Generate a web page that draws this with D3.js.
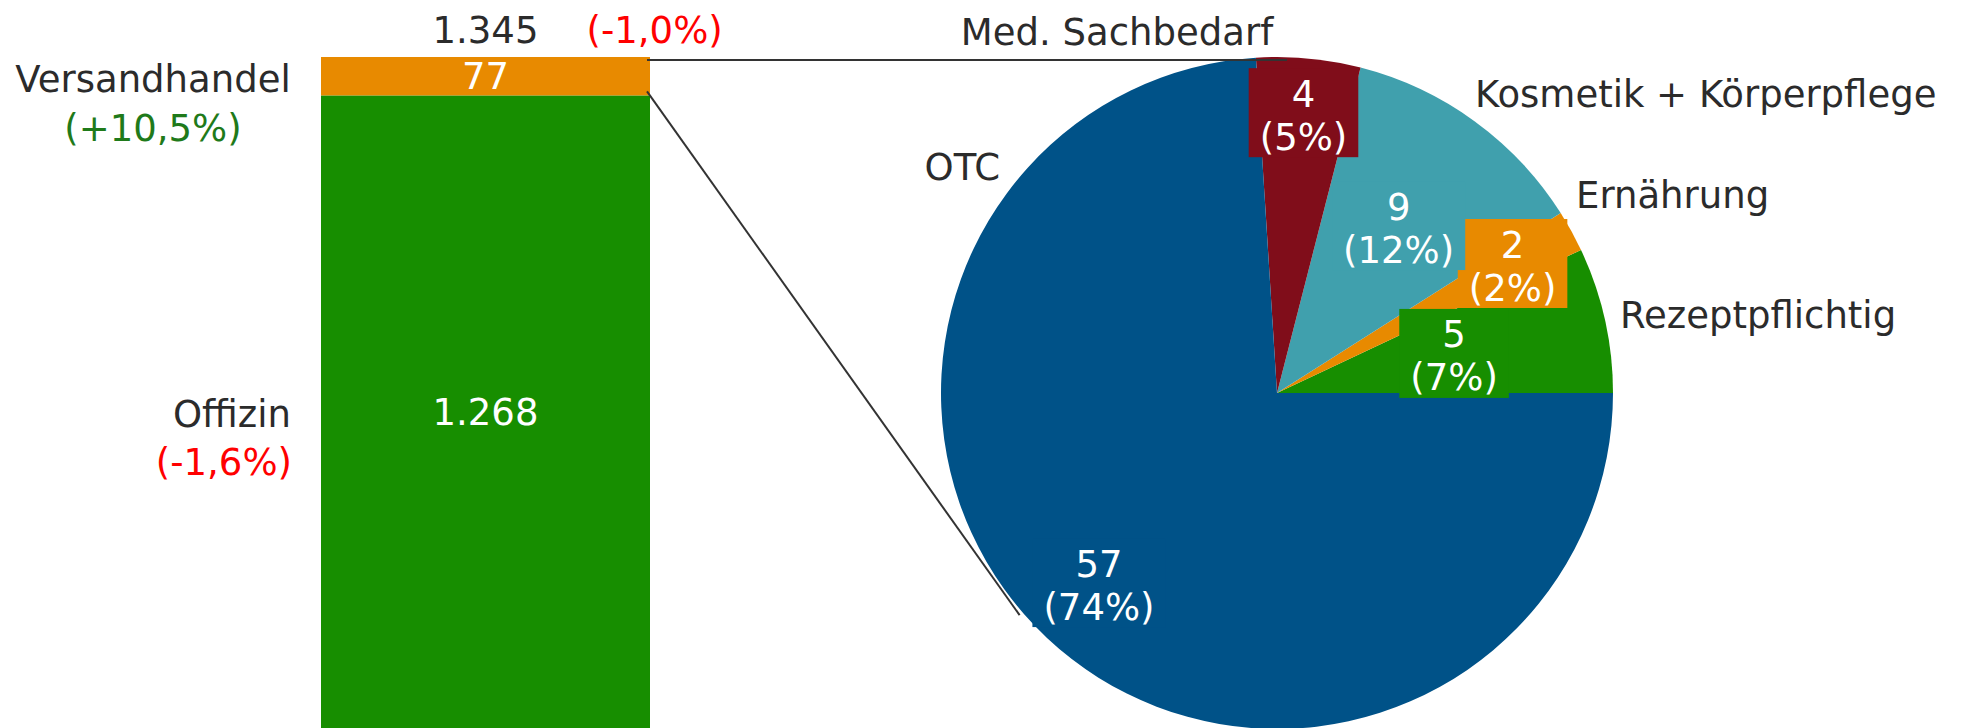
<!DOCTYPE html>
<html>
<head>
<meta charset="utf-8">
<script src="https://cdn.jsdelivr.net/npm/d3@7"></script>
<style>
  html, body { margin: 0; padding: 0; background: #ffffff; }
  svg { display: block; }
  text { font-family: "DejaVu Sans", "Liberation Sans", sans-serif; }
</style>
</head>
<body>
<script>
// ---------- DATA ----------
const barCategories = ["Offizin", "Versandhandel"];
const barValues = [1268, 77];
const barChanges = ["(-1,6%)", "(+10,5%)"];
const totalValue = 1345;
const totalChange = "(-1,0%)";

const pieCategories = ["Rezeptpflichtig", "Ernährung", "Kosmetik + Körperpflege", "Med. Sachbedarf", "OTC"];
const pieValues = [5, 2, 9, 4, 57];
const pieShares = [7, 2, 12, 5, 74];

// ---------- STYLE / LAYOUT ----------
const W = 1968, H = 728;
const barColors = ["#178e00", "#e88a00"];
const pieColors = ["#178e00", "#e88a00", "#40a0ad", "#800d1a", "#005288"];
const textDark = "#2b2b2b";
const red = "#ff0000";
const green = "#1f7a1a";
const fontSize = 37;

const pieCx = 1277, pieCy = 393, pieR = 336;
const labelRadiusFactor = [0.54, 0.80, 0.616, 0.838, 0.774];
// outer category labels: offset from pie centre, anchor
const outerLabelLayout = [
  {dx: 343, dy: -65, anchor: "start"},
  {dx: 299, dy: -185, anchor: "start"},
  {dx: 198, dy: -286, anchor: "start"},
  {dx: -160, dy: -348, anchor: "middle"},
  {dx: -277, dy: -213, anchor: "end"}
];

const de = d3.formatLocale({decimal: ",", thousands: ".", grouping: [3], currency: ["", " €"]});
const fmt = de.format(",");

const svg = d3.select("body").append("svg").attr("width", W).attr("height", H);

// ---------- BAR ----------
const x = d3.scaleBand().domain(["Apotheken"]).range([321, 650]).padding(0);
const y = d3.scaleLinear().domain([0, totalValue]).range([H, 57]);

const stack = [];
let acc = 0;
barValues.forEach((v, i) => { stack.push({cat: barCategories[i], v0: acc, v1: acc + v, v, change: barChanges[i], color: barColors[i]}); acc += v; });

svg.append("g").selectAll("rect").data(stack).join("rect")
  .attr("x", x("Apotheken"))
  .attr("width", x.bandwidth())
  .attr("y", d => y(d.v1))
  .attr("height", d => y(d.v0) - y(d.v1))
  .attr("fill", d => d.color);

const barMid = x("Apotheken") + x.bandwidth() / 2;

// values inside segments
svg.append("g").selectAll("text").data(stack).join("text")
  .attr("x", barMid)
  .attr("y", d => (y(d.v0) + y(d.v1)) / 2 + 13)
  .attr("text-anchor", "middle")
  .attr("fill", "#ffffff")
  .attr("font-size", fontSize)
  .text(d => fmt(d.v));

// total on top
svg.append("text").attr("x", barMid).attr("y", y(totalValue) - 14)
  .attr("text-anchor", "middle").attr("fill", textDark).attr("font-size", fontSize)
  .text(fmt(totalValue));
svg.append("text").attr("x", barMid + 101).attr("y", y(totalValue) - 14)
  .attr("text-anchor", "start").attr("fill", red).attr("font-size", fontSize)
  .text(totalChange);

// category labels left of bar
// Offizin
svg.append("text").attr("x", 291).attr("y", 427)
  .attr("text-anchor", "end").attr("fill", textDark).attr("font-size", fontSize)
  .text(stack[0].cat);
svg.append("text").attr("x", 292).attr("y", 475)
  .attr("text-anchor", "end").attr("fill", red).attr("font-size", fontSize)
  .text(stack[0].change);
// Versandhandel
svg.append("text").attr("x", 153).attr("y", 92)
  .attr("text-anchor", "middle").attr("fill", textDark).attr("font-size", fontSize)
  .text(stack[1].cat);
svg.append("text").attr("x", 153).attr("y", 141)
  .attr("text-anchor", "middle").attr("fill", green).attr("font-size", fontSize)
  .text(stack[1].change);

// ---------- PIE ----------
const pieData = pieCategories.map((c, i) => ({cat: c, value: pieValues[i], share: pieShares[i], color: pieColors[i], lr: labelRadiusFactor[i], ol: outerLabelLayout[i]}));
const pie = d3.pie().value(d => d.share).sort(null)
  .startAngle(Math.PI / 2).endAngle(Math.PI / 2 - 2 * Math.PI);
const arcs = pie(pieData);
const arc = d3.arc().innerRadius(0).outerRadius(pieR);

const pg = svg.append("g").attr("transform", `translate(${pieCx},${pieCy})`);
pg.selectAll("path").data(arcs).join("path")
  .attr("d", arc)
  .attr("fill", d => d.data.color);

// data labels with coloured boxes
const lblG = pg.append("g");
arcs.forEach(d => {
  const la = d3.arc().innerRadius(pieR * d.data.lr).outerRadius(pieR * d.data.lr);
  const [cx, cy] = la.centroid(d);
  const g = lblG.append("g");
  const rect = g.append("rect").attr("fill", d.data.color);
  const t1 = g.append("text").attr("x", cx).attr("y", cy - 6)
    .attr("text-anchor", "middle").attr("fill", "#ffffff").attr("font-size", fontSize)
    .text(fmt(d.data.value));
  const t2 = g.append("text").attr("x", cx).attr("y", cy + 37)
    .attr("text-anchor", "middle").attr("fill", "#ffffff").attr("font-size", fontSize)
    .text(`(${d.data.share}%)`);
  const w = Math.max(t1.node().getBBox().width, t2.node().getBBox().width) + 22;
  rect.attr("x", cx - w / 2).attr("y", cy - 44.5).attr("width", w).attr("height", 89);
});

// outer category labels
pg.selectAll("text.outer").data(arcs).join("text")
  .attr("class", "outer")
  .attr("x", d => d.data.ol.dx)
  .attr("y", d => d.data.ol.dy)
  .attr("text-anchor", d => d.data.ol.anchor)
  .attr("fill", textDark)
  .attr("font-size", fontSize)
  .text(d => d.data.cat);

// ---------- CONNECTOR LINES ----------
const barRight = x("Apotheken") + x.bandwidth();
const lowAngle = (220.8) * Math.PI / 180; // measured CCW from east
svg.append("line")
  .attr("x1", barRight - 3).attr("y1", y(totalValue) + 3)
  .attr("x2", pieCx + 10).attr("y2", y(totalValue) + 3)
  .attr("stroke", "#333333").attr("stroke-width", 2);
svg.append("line")
  .attr("x1", barRight - 3).attr("y1", y(barValues[0]) - 4)
  .attr("x2", pieCx + Math.cos(lowAngle) * (pieR + 4))
  .attr("y2", pieCy - Math.sin(lowAngle) * (pieR + 4))
  .attr("stroke", "#333333").attr("stroke-width", 2);
</script>
</body>
</html>
